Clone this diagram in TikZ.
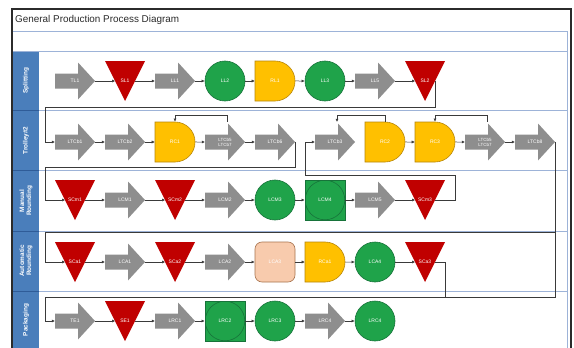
\documentclass[tikz,border=0pt]{standalone}
\usepackage{fontspec}
\setmainfont{Liberation Sans}
\usetikzlibrary{shapes.misc,arrows.meta}
\definecolor{arrgray}{HTML}{8E8E8E}
\definecolor{trired}{HTML}{C00000}
\definecolor{grn}{HTML}{1FA34A}
\definecolor{grnd}{HTML}{17733A}
\definecolor{yel}{HTML}{FFC000}
\definecolor{yeld}{HTML}{B8860B}
\definecolor{peach}{HTML}{F8CBAD}
\definecolor{peachd}{HTML}{A8744F}
\definecolor{laneblue}{HTML}{4A7EBB}
\definecolor{lanedark}{HTML}{2F5C98}
\definecolor{sepblue}{HTML}{9DB3D8}
\definecolor{framedk}{HTML}{2B2B2B}
\definecolor{conng}{HTML}{3A3A3A}
\begin{document}
\begin{tikzpicture}[x=1pt,y=-1pt,
  lbl/.style={font=\fontsize{5}{5.5}\selectfont, text=white, align=center},
  lbl2/.style={font=\fontsize{4.5}{5}\selectfont, text=white, align=center},
  garrow/.style={rectangle, minimum width=40pt, minimum height=40pt, inner sep=0pt,
    path picture={\fill[arrgray] (path picture bounding box.west) ++(0pt,7.5pt) -- ++(23pt,0pt)
      -- ++(0pt,11pt) -- ++(17pt,-18.5pt) -- ++(-17pt,-18.5pt) -- ++(0pt,11pt) -- ++(-23pt,0pt) -- cycle;}},
  tri/.style={lbl, rectangle, minimum width=40pt, minimum height=40pt, inner sep=0pt, outer xsep=-10pt,
    path picture={\fill[trired] (path picture bounding box.north west) -- (path picture bounding box.north east)
      -- (path picture bounding box.south) -- cycle;}},
  circ/.style={lbl, circle, fill=grn, draw=grnd, line width=0.6pt, minimum size=40pt, inner sep=0pt},
  dsh/.style={lbl, rounded rectangle, rounded rectangle left arc=none, fill=yel, draw=yeld, line width=0.6pt,
    minimum width=40pt, minimum height=40pt, inner sep=0pt},
  sqc/.style={lbl, rectangle, fill=grn, draw=grnd, line width=0.6pt, minimum size=40pt, inner sep=0pt,
    path picture={\draw[grnd, line width=0.6pt] (path picture bounding box.center) circle (19.8pt);}},
  rsq/.style={lbl, rectangle, rounded corners=7pt, fill=peach, draw=peachd, line width=0.6pt, minimum size=40pt, inner sep=0pt},
  lane/.style={font=\bfseries\fontsize{6.4}{7.2}\selectfont, text=white, align=center, rotate=90},
  conn/.style={draw=conng, line width=0.5pt, -{Latex[length=3pt,width=3pt]}},
  link/.style={draw=conng, line width=0.5pt}
]
\useasboundingbox (0,0) rectangle (574,348);
\fill[white] (0,0) rectangle (574,348);
% lane label column
\fill[laneblue] (13,51) rectangle (39,348);
% separators
\foreach \yy in {31,51} \draw[sepblue, line width=0.6pt] (13,\yy) -- (568,\yy);
\foreach \yy in {110.5,170.5,231,291} {
  \draw[sepblue, line width=0.6pt] (39,\yy) -- (568,\yy);
  \draw[lanedark, line width=0.8pt] (13,\yy) -- (39,\yy);
}
\draw[sepblue, line width=0.5pt] (567,31) -- (567,348);
% frame
\draw[framedk, line width=1.2pt] (12,348) -- (12,9) -- (571,9);
\draw[framedk, line width=2.5pt] (571,8.4) -- (571,348);
% title
\node[anchor=west, font=\fontsize{9.9}{11}\selectfont, text=framedk, inner sep=0pt] (title) at (15,20) {General Production Process Diagram};
% lane labels
\node[lane] (lS) at (26,80.5) {Splitting};
\node[lane] (lT) at (26,140.5) {Trolley\#2};
\node[lane] (lM) at (26,201) {Manual\\Rounding};
\node[lane] (lA) at (26,261) {Automatic\\Rounding};
\node[lane] (lP) at (26,320) {Packaging};

% Splitting
\node[garrow, lbl] (tl1) at (75,81) {TL1};
\node[tri] (sl1) at (125,81) {SL1};
\node[garrow, lbl] (ll1) at (175,81) {LL1};
\node[circ] (ll2) at (225,81) {LL2};
\node[dsh] (rl1) at (275,81) {RL1};
\node[circ] (ll3) at (325,81) {LL3};
\node[garrow, lbl] (ll5) at (375,81) {LL5};
\node[tri] (sl2) at (425,81) {SL2};

% Trolley
\node[garrow, lbl] (ltcb1) at (75,142) {LTCb1};
\node[garrow, lbl] (ltcb2) at (125,142) {LTCb2};
\node[dsh] (rc1) at (175,142) {RC1};
\node[garrow, lbl2] (ltca) at (225,142) {LTCb5\\LTCb7};
\node[garrow, lbl] (ltcb6) at (275,142) {LTCb6};
\node[garrow, lbl] (ltcb3) at (335,142) {LTCb3};
\node[dsh] (rc2) at (385,142) {RC2};
\node[dsh] (rc3) at (435,142) {RC3};
\node[garrow, lbl2] (ltcb) at (485,142) {LTCb5\\LTCb7};
\node[garrow, lbl] (ltcb8) at (535,142) {LTCb8};

% Manual Rounding
\node[tri] (scm1) at (75,200) {SCm1};
\node[garrow, lbl] (lcm1) at (125,200) {LCM1};
\node[tri] (scm2) at (175,200) {SCm2};
\node[garrow, lbl] (lcm2) at (225,200) {LCM2};
\node[circ] (lcm3) at (275,200) {LCM3};
\node[sqc] (lcm4) at (325,200) {LCM4};
\node[garrow, lbl] (lcm5) at (375,200) {LCM5};
\node[tri] (scm3) at (425,200) {SCm3};

% Automatic Rounding
\node[tri] (sca1) at (75,262) {SCa1};
\node[garrow, lbl] (lca1) at (125,262) {LCA1};
\node[tri] (sca2) at (175,262) {SCa2};
\node[garrow, lbl] (lca2) at (225,262) {LCA2};
\node[rsq] (lca3) at (275,262) {LCA3};
\node[dsh] (rca1) at (325,262) {RCa1};
\node[circ] (lca4) at (375,262) {LCA4};
\node[tri] (sca3) at (425,262) {SCa3};

% Packaging
\node[garrow, lbl] (te1) at (75,321) {TE1};
\node[tri] (se1) at (125,321) {SE1};
\node[garrow, lbl] (lrc1) at (175,321) {LRC1};
\node[sqc] (lrc2) at (225,321) {LRC2};
\node[circ] (lrc3) at (275,321) {LRC3};
\node[garrow, lbl] (lrc4) at (325,321) {LRC4};
\node[circ] (lrc5) at (375,321) {LRC4};

% straight connectors
\foreach \a/\b in {tl1/sl1, sl1/ll1, ll1/ll2, ll2/rl1, rl1/ll3, ll3/ll5, ll5/sl2,
  ltcb1/ltcb2, ltcb2/rc1, rc1/ltca, ltca/ltcb6, rc2/rc3, rc3/ltcb, ltcb/ltcb8,
  scm1/lcm1, lcm1/scm2, scm2/lcm2, lcm2/lcm3, lcm3/lcm4, lcm4/lcm5, lcm5/scm3,
  sca1/lca1, lca1/sca2, sca2/lca2, lca2/lca3, lca3/rca1, rca1/lca4, lca4/sca3,
  te1/se1, se1/lrc1, lrc1/lrc2, lrc2/lrc3, lrc3/lrc4, lrc4/lrc5}
  \draw[conn] (\a) -- (\b);

% routed connectors
\draw[conn] (sl2.east) |- (45,107) |- (ltcb1.west);
\draw[conn] (ltcb6.east) |- (45,167) |- (scm1.west);
\draw[conn] (scm3.east) -| (455,175) -| (305,142) -- (ltcb3.west);
\draw[conn] (ltcb8.east) |- (45,232.5) |- (sca1.west);
\coordinate (jn) at (445,297);
\draw[link] (ltcb8.east) |- (jn);
\draw[conn] (sca3.east) -| (jn) -| (45,321) -- (te1.west);
% rework loops
\draw[conn] ([xshift=2pt]ltca.north) |- (175,115) -- (rc1.north);
\draw[conn] (rc2.north) |- (337,115) -- ([xshift=2pt]ltcb3.north);
\draw[conn] ([xshift=2pt]ltcb.north) |- (435,115) -- (rc3.north);
\end{tikzpicture}
\end{document}
